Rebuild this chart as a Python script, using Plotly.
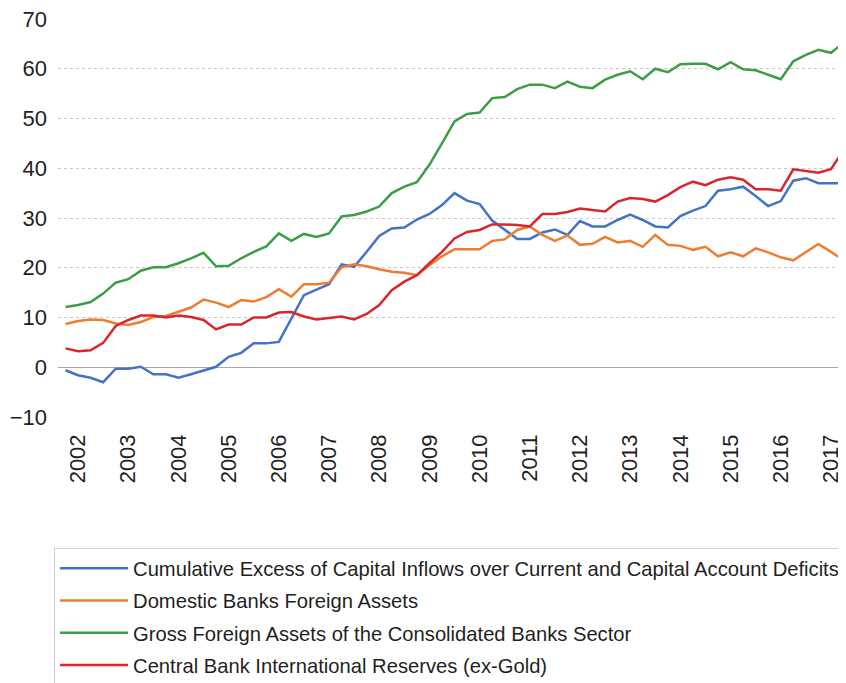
import plotly.graph_objects as go

years = ["2002", "2003", "2004", "2005", "2006", "2007", "2008", "2009",
         "2010", "2011", "2012", "2013", "2014", "2015", "2016", "2017"]

cumulative_excess = [-0.6, -1.6, -2.1, -3.0, -0.3, -0.3, 0.1, -1.4, -1.4, -2.1,
                     -1.4, -0.6, 0.1, 2.1, 2.9, 4.8, 4.8, 5.1, 9.8, 14.5,
                     15.6, 16.7, 20.7, 20.2, 23.2, 26.4, 27.9, 28.1, 29.7, 30.8,
                     32.6, 35.0, 33.5, 32.8, 29.5, 27.6, 25.8, 25.8, 27.1, 27.7,
                     26.6, 29.4, 28.3, 28.3, 29.6, 30.7, 29.6, 28.3, 28.1, 30.4,
                     31.5, 32.4, 35.5, 35.8, 36.3, 34.4, 32.4, 33.4, 37.5, 38.0,
                     37.0, 37.0, 37.0]

domestic_banks = [8.7, 9.3, 9.6, 9.5, 8.8, 8.5, 9.1, 10.1, 10.3, 11.1,
                  12.0, 13.6, 13.0, 12.1, 13.5, 13.2, 14.1, 15.7, 14.2, 16.7,
                  16.7, 17.0, 20.1, 20.7, 20.3, 19.7, 19.2, 19.0, 18.5, 20.5,
                  22.3, 23.7, 23.7, 23.7, 25.4, 25.7, 27.6, 28.3, 26.6, 25.4,
                  26.5, 24.6, 24.8, 26.2, 25.1, 25.4, 24.2, 26.6, 24.6, 24.4,
                  23.6, 24.2, 22.3, 23.1, 22.3, 23.9, 23.1, 22.1, 21.5, 23.2,
                  24.8, 23.2, 21.5]

gross_foreign = [12.1, 12.5, 13.1, 14.8, 17.0, 17.7, 19.4, 20.1, 20.1, 20.9,
                 21.9, 23.0, 20.3, 20.4, 21.9, 23.2, 24.3, 26.9, 25.4, 26.8,
                 26.2, 26.9, 30.3, 30.6, 31.3, 32.3, 35.0, 36.3, 37.2, 40.7,
                 45.0, 49.4, 50.9, 51.2, 54.1, 54.3, 55.9, 56.8, 56.8, 56.1,
                 57.4, 56.4, 56.1, 57.8, 58.8, 59.5, 57.9, 60.0, 59.3, 60.9,
                 61.0, 61.0, 59.9, 61.3, 59.9, 59.7, 58.8, 57.9, 61.5, 62.8,
                 63.8, 63.2, 65.2]

central_bank = [3.8, 3.2, 3.4, 4.9, 8.3, 9.5, 10.4, 10.4, 10.0, 10.4,
                10.1, 9.5, 7.6, 8.6, 8.6, 10.0, 10.0, 11.0, 11.1, 10.2,
                9.6, 9.9, 10.2, 9.6, 10.7, 12.5, 15.5, 17.2, 18.5, 20.9,
                23.2, 25.9, 27.2, 27.6, 28.7, 28.7, 28.6, 28.3, 30.8, 30.8,
                31.2, 31.9, 31.6, 31.3, 33.3, 34.0, 33.8, 33.3, 34.6, 36.2,
                37.3, 36.6, 37.7, 38.2, 37.7, 35.8, 35.8, 35.5, 39.8, 39.5,
                39.1, 39.8, 43.6]

series_names = [
    "Cumulative Excess of Capital Inflows over Current and Capital Account Deficits",
    "Domestic Banks Foreign Assets",
    "Gross Foreign Assets of the Consolidated Banks Sector",
    "Central Bank International Reserves (ex-Gold)",
]
series_values = [cumulative_excess, domestic_banks, gross_foreign, central_bank]
colors = ["#4472C4", "#ED7D31", "#3C9E44", "#D9262E"]

quarters = list(range(len(gross_foreign)))
year_tick_positions = [1 + 4 * k for k in range(len(years))]

fig = go.Figure()
for i, (name, vals) in enumerate(zip(series_names, series_values)):
    fig.add_trace(go.Scatter(
        x=quarters, y=vals, mode="lines", name=name,
        legendgroup=f"g{i}",
        line=dict(color=colors[i], width=2.5),
        cliponaxis=False,
    ))

font_axis = dict(family="Liberation Sans, Arial, sans-serif", size=22, color="#1f1f1f")

# page body has an 8px margin, so the figure is 838x675 to fill the window
fig.update_layout(
    width=838, height=675,
    margin=dict(l=50, r=0, t=11, b=266, autoexpand=False),
    plot_bgcolor="white", paper_bgcolor="white",
    showlegend=True,
    legend=dict(
        x=-0.005, xanchor="left", y=-0.328, yanchor="top",
        bgcolor="white", bordercolor="#d0d0d0", borderwidth=1,
        font=dict(family="Liberation Sans, Arial, sans-serif", size=20.2, color="#1f1f1f"),
        traceorder="grouped", tracegroupgap=3,
        itemwidth=68,
    ),
    xaxis=dict(
        range=[-0.6, 62.2],
        tickmode="array", tickvals=year_tick_positions, ticktext=years,
        tickangle=-90, tickfont=font_axis,
        showgrid=False, zeroline=False, showline=False,
        ticks="", ticklabelstandoff=12, ticklabeloverflow="allow",
    ),
    yaxis=dict(
        range=[-10, 70],
        tickmode="array", tickvals=list(range(-10, 71, 10)),
        tickfont=font_axis,
        showgrid=True, gridcolor="#c8c8c8", griddash="dot", gridwidth=1,
        zeroline=True, zerolinecolor="#a8a8a8", zerolinewidth=1,
        showline=False, ticks="", ticklabelstandoff=10,
        ticklabeloverflow="allow",
    ),
)

fig.write_html("out.html")
